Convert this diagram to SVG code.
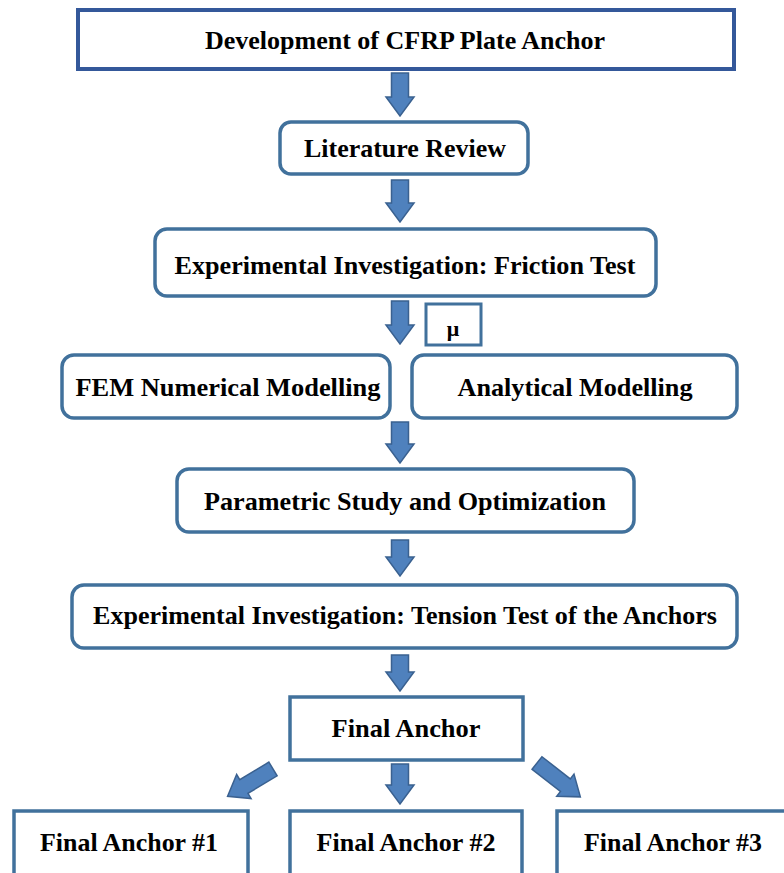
<svg xmlns="http://www.w3.org/2000/svg" width="784" height="873" viewBox="0 0 784 873">
<style>
.box{fill:#fff;stroke:#41719c;stroke-width:3.5}
.top{fill:#fff;stroke:#34589a;stroke-width:4}
.arr{fill:#4f81bd;stroke:#3a6190;stroke-width:1.5;stroke-linejoin:miter}
text{font-family:"Liberation Serif","Times New Roman",serif;font-weight:bold;font-size:26px;fill:#000;text-anchor:middle}
</style>
<rect width="784" height="873" fill="#fff"/>
<g id="connectors">
<path class="arr" d="M391.5,73 H408.5 V97 H414 L400,116 L386,97 H391.5 Z"/>
<path class="arr" d="M391.5,180 H408.5 V203 H414 L400,222 L386,203 H391.5 Z"/>
<path class="arr" d="M391.5,301 H408.5 V325 H414 L400,344 L386,325 H391.5 Z"/>
<path class="arr" d="M391.5,422 H408.5 V444 H414 L400,463 L386,444 H391.5 Z"/>
<path class="arr" d="M391.5,540 H408.5 V557 H414 L400,576 L386,557 H391.5 Z"/>
<path class="arr" d="M391.5,655 H408.5 V672 H414 L400,691 L386,672 H391.5 Z"/>
<path class="arr" d="M391.5,764 H408.5 V785 H414 L400,804 L386,785 H391.5 Z"/>
<path class="arr" transform="translate(273,769) rotate(59)" d="M-8,0 H8 V34 H14 L0,53 L-14,34 H-8 Z"/>
<path class="arr" transform="translate(537,763) rotate(-52)" d="M-8,0 H8 V36 H14 L0,55 L-14,36 H-8 Z"/>
</g>
<g id="n1"><rect class="top" x="78" y="10" width="656" height="59"/><text x="405" y="49" textLength="400" lengthAdjust="spacingAndGlyphs">Development of CFRP Plate Anchor</text></g>
<g id="n2"><rect class="box" x="280" y="122" width="248" height="52" rx="11"/><text x="405" y="157" textLength="202" lengthAdjust="spacingAndGlyphs">Literature Review</text></g>
<g id="n3"><rect class="box" x="155" y="229" width="501" height="67" rx="12"/><text x="405" y="274" textLength="461" lengthAdjust="spacingAndGlyphs">Experimental Investigation: Friction Test</text></g>
<g id="mu"><rect class="box" x="426" y="304" width="55" height="41" style="stroke-width:3"/><text x="453" y="336" style="font-size:22px">μ</text></g>
<g id="n4"><rect class="box" x="62" y="355" width="328" height="63" rx="12"/><text x="228" y="396" textLength="305" lengthAdjust="spacingAndGlyphs">FEM Numerical Modelling</text></g>
<g id="n5"><rect class="box" x="412" y="355" width="325" height="63" rx="12"/><text x="575" y="396" textLength="235" lengthAdjust="spacingAndGlyphs">Analytical Modelling</text></g>
<g id="n6"><rect class="box" x="177" y="469" width="457" height="63" rx="12"/><text x="405" y="510" textLength="402" lengthAdjust="spacingAndGlyphs">Parametric Study and Optimization</text></g>
<g id="n7"><rect class="box" x="72" y="585" width="665" height="63" rx="12"/><text x="405" y="624" textLength="624" lengthAdjust="spacingAndGlyphs">Experimental Investigation: Tension Test of the Anchors</text></g>
<g id="n8"><rect class="box" x="290" y="697" width="233" height="63"/><text x="406" y="737" textLength="149" lengthAdjust="spacingAndGlyphs">Final Anchor</text></g>
<g id="n9"><rect class="box" x="14" y="811" width="234" height="70"/><text x="129" y="851" textLength="178" lengthAdjust="spacingAndGlyphs">Final Anchor #1</text></g>
<g id="n10"><rect class="box" x="290" y="811" width="232" height="70"/><text x="406" y="851" textLength="179" lengthAdjust="spacingAndGlyphs">Final Anchor #2</text></g>
<g id="n11"><rect class="box" x="557" y="811" width="240" height="70"/><text x="673" y="851" textLength="178" lengthAdjust="spacingAndGlyphs">Final Anchor #3</text></g>
</svg>
